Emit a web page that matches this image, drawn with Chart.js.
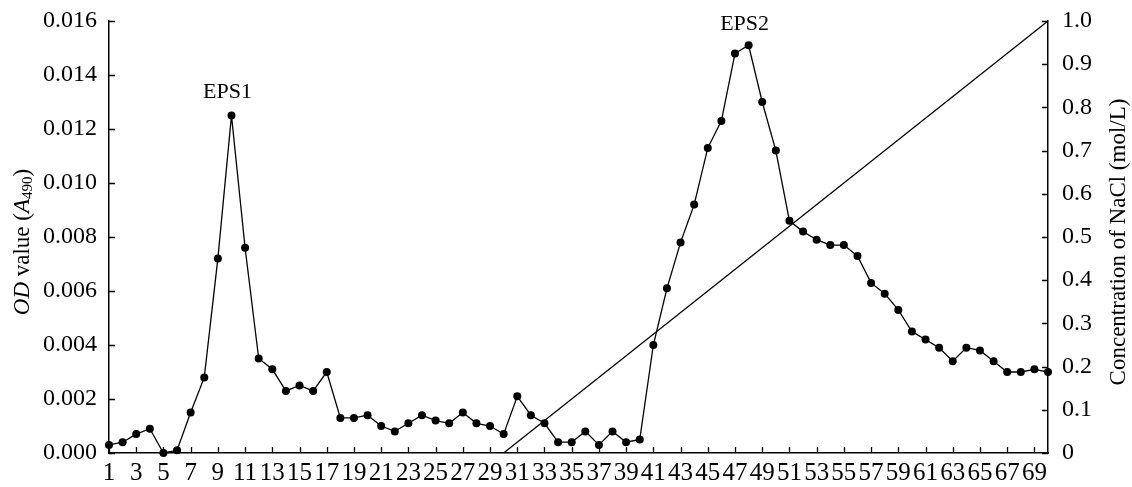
<!DOCTYPE html>
<html>
<head>
<meta charset="utf-8">
<script src="https://cdn.jsdelivr.net/npm/chart.js@4/dist/chart.umd.min.js"></script>
<style>
  html, body { margin: 0; padding: 0; background: #fff; }
  #wrap { width: 1132px; height: 487px; }
</style>
</head>
<body>
<div id="wrap"><canvas id="c" width="1132" height="487"></canvas></div>
<script>
// Tube (fraction) numbers
const fractions = ['1','2','3','4','5','6','7','8','9','10',
  '11','12','13','14','15','16','17','18','19','20',
  '21','22','23','24','25','26','27','28','29','30',
  '31','32','33','34','35','36','37','38','39','40',
  '41','42','43','44','45','46','47','48','49','50',
  '51','52','53','54','55','56','57','58','59','60',
  '61','62','63','64','65','66','67','68','69','70'];

// Absorbance at 490 nm for each fraction
const odValues = [0.0003, 0.0004, 0.0007, 0.0009, 0.0000, 0.0001, 0.0015, 0.0028, 0.0072, 0.0125,
  0.0076, 0.0035, 0.0031, 0.0023, 0.0025, 0.0023, 0.0030, 0.0013, 0.0013, 0.0014,
  0.0010, 0.0008, 0.0011, 0.0014, 0.0012, 0.0011, 0.0015, 0.0011, 0.0010, 0.0007,
  0.0021, 0.0014, 0.0011, 0.0004, 0.0004, 0.0008, 0.0003, 0.0008, 0.0004, 0.0005,
  0.0040, 0.0061, 0.0078, 0.0092, 0.0113, 0.0123, 0.0148, 0.0151, 0.0130, 0.0112,
  0.0086, 0.0082, 0.0079, 0.0077, 0.0077, 0.0073, 0.0063, 0.0059, 0.0053, 0.0045,
  0.0042, 0.0039, 0.0034, 0.0039, 0.0038, 0.0034, 0.0030, 0.0030, 0.0031, 0.0030];

// NaCl linear gradient: start and end of the elution gradient
const gradientFractions = ['30', '70'];
const gradientNaCl = [0, 1.0];

// Peak names and the fraction each one marks
const peakNames = ['EPS1', 'EPS2'];
const peakFractions = ['10', '48'];

// Axis ticks
const odTicks = [0, 0.002, 0.004, 0.006, 0.008, 0.010, 0.012, 0.014, 0.016];
const naclTicks = [0, 0.1, 0.2, 0.3, 0.4, 0.5, 0.6, 0.7, 0.8, 0.9, 1.0];

const SERIF = '"Liberation Serif", "Times New Roman", serif';
const INK = '#000';

// white page behind the chart
const backgroundPlugin = {
  id: 'pageBg',
  beforeDraw(chart) {
    const ctx = chart.ctx;
    ctx.save();
    ctx.fillStyle = '#fff';
    ctx.fillRect(0, 0, chart.width, chart.height);
    ctx.restore();
  }
};

// short tick marks pointing into the plot area
const innerTicksPlugin = {
  id: 'innerTicks',
  afterDraw(chart) {
    const ctx = chart.ctx;
    const area = chart.chartArea;
    const len = 6;
    ctx.save();
    ctx.strokeStyle = INK;
    ctx.lineWidth = 1.3;
    ctx.beginPath();
    const x = chart.scales.x;
    x.ticks.forEach((t, i) => {
      if (t.label === null || t.label === undefined || t.label === '') return;
      const px = Math.round(x.getPixelForTick(i)) + 0.5;
      ctx.moveTo(px, area.bottom);
      ctx.lineTo(px, area.bottom - len);
    });
    const y = chart.scales.y;
    y.ticks.forEach((t, i) => {
      const py = Math.round(y.getPixelForTick(i)) + 0.5;
      ctx.moveTo(area.left, py);
      ctx.lineTo(area.left + len, py);
    });
    const y2 = chart.scales.y2;
    y2.ticks.forEach((t, i) => {
      const py = Math.round(y2.getPixelForTick(i)) + 0.5;
      ctx.moveTo(area.right, py);
      ctx.lineTo(area.right - len, py);
    });
    ctx.stroke();
    ctx.restore();
  }
};

// axis titles (left one mixes italic and a subscript) and peak names
const textPlugin = {
  id: 'axisText',
  afterDraw(chart) {
    const ctx = chart.ctx;
    const area = chart.chartArea;
    const size = 23;
    const parts = [
      { t: 'OD', f: `italic ${size}px ${SERIF}`, dy: 0 },
      { t: ' value (', f: `${size}px ${SERIF}`, dy: 0 },
      { t: 'A', f: `italic ${size}px ${SERIF}`, dy: 0 },
      { t: '490', f: `${Math.round(size * 0.65)}px ${SERIF}`, dy: 5 },
      { t: ')', f: `${size}px ${SERIF}`, dy: 0 }
    ];
    ctx.save();
    ctx.fillStyle = INK;
    let total = 0;
    parts.forEach(p => { ctx.font = p.f; p.w = ctx.measureText(p.t).width; total += p.w; });
    const cy = (area.top + area.bottom) / 2 + 5;
    ctx.translate(23, cy);
    ctx.rotate(-Math.PI / 2);
    ctx.textBaseline = 'middle';
    ctx.textAlign = 'left';
    let cx = -total / 2;
    parts.forEach(p => { ctx.font = p.f; ctx.fillText(p.t, cx, p.dy); cx += p.w; });
    ctx.restore();

    ctx.save();
    ctx.fillStyle = INK;
    ctx.font = `${size}px ${SERIF}`;
    ctx.translate(1119, cy);
    ctx.rotate(-Math.PI / 2);
    ctx.textAlign = 'center';
    ctx.textBaseline = 'middle';
    ctx.fillText('Concentration of NaCl (mol/L)', 0, 0);
    ctx.restore();

    ctx.save();
    ctx.fillStyle = INK;
    ctx.font = `22px ${SERIF}`;
    ctx.textAlign = 'center';
    ctx.textBaseline = 'alphabetic';
    const lift = [18, 15];
    peakNames.forEach((name, k) => {
      const idx = fractions.indexOf(peakFractions[k]);
      const px = chart.scales.x.getPixelForValue(idx);
      const py = chart.scales.y.getPixelForValue(odValues[idx]);
      ctx.fillText(name, px - 4, py - lift[k]);
    });
    ctx.restore();
  }
};

// fixed axis box sizes so the plot area sits where intended
const fixVertical = w => s => { s.width = w; s.paddingTop = 0; s.paddingBottom = 0; };

new Chart(document.getElementById('c'), {
  type: 'line',
  data: {
    labels: fractions,
    datasets: [
      {
        label: 'OD',
        data: odValues,
        yAxisID: 'y',
        borderColor: INK,
        borderWidth: 1.3,
        pointRadius: 4,
        pointBackgroundColor: INK,
        pointBorderColor: INK,
        pointBorderWidth: 0,
        tension: 0,
        clip: false
      },
      {
        label: 'NaCl',
        data: gradientFractions.map((f, i) => ({ x: f, y: gradientNaCl[i] })),
        yAxisID: 'y2',
        borderColor: INK,
        borderWidth: 1.3,
        pointRadius: 0,
        tension: 0,
        clip: false
      }
    ]
  },
  options: {
    responsive: false,
    animation: false,
    events: [],
    layout: { padding: { top: 21, left: 0, right: 0, bottom: 0 } },
    plugins: { legend: { display: false }, tooltip: { enabled: false } },
    scales: {
      x: {
        type: 'category',
        offset: false,
        grid: { display: false, drawTicks: false },
        border: { display: true, color: INK, width: 1.5 },
        ticks: {
          color: INK,
          font: { family: SERIF, size: 25 },
          padding: 5,
          autoSkip: false,
          maxRotation: 0,
          minRotation: 0,
          callback: (v, i) => (i % 2 === 0 ? fractions[i] : null)
        },
        afterFit: s => { s.height = 34; s.paddingLeft = 0; s.paddingRight = 0; }
      },
      y: {
        position: 'left',
        min: 0,
        max: 0.016,
        grid: { display: false, drawTicks: false },
        border: { display: true, color: INK, width: 1.5 },
        afterBuildTicks: s => { s.ticks = odTicks.map(v => ({ value: v })); },
        ticks: {
          color: INK,
          font: { family: SERIF, size: 24 },
          padding: 12,
          callback: v => v.toFixed(3)
        },
        afterFit: fixVertical(109)
      },
      y2: {
        position: 'right',
        min: 0,
        max: 1,
        grid: { display: false, drawTicks: false },
        border: { display: true, color: INK, width: 1.5 },
        afterBuildTicks: s => { s.ticks = naclTicks.map(v => ({ value: v })); },
        ticks: {
          color: INK,
          font: { family: SERIF, size: 24 },
          padding: 14,
          callback: v => (v === 0 ? '0' : v.toFixed(1))
        },
        afterFit: fixVertical(84)
      }
    }
  },
  plugins: [backgroundPlugin, innerTicksPlugin, textPlugin]
});
</script>
</body>
</html>
